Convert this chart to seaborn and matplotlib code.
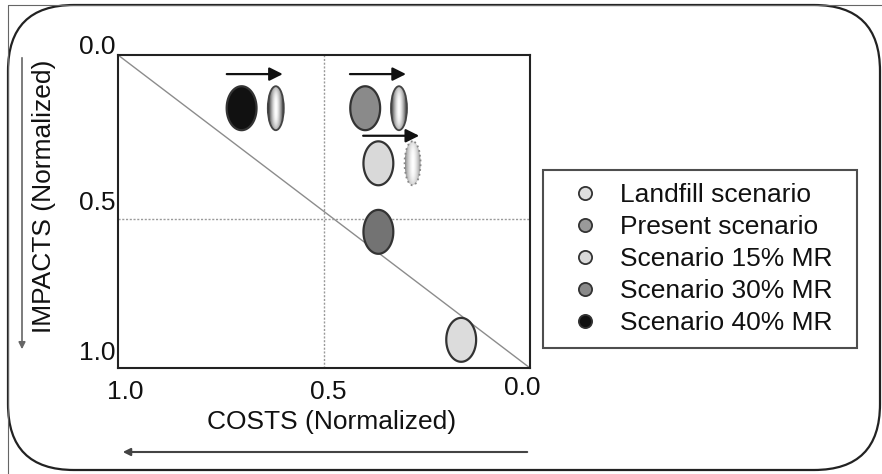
import numpy as np
import pandas as pd
import matplotlib
matplotlib.use("Agg")
import matplotlib.pyplot as plt
import matplotlib.transforms as mtransforms
from matplotlib.path import Path
from matplotlib.markers import MarkerStyle
from matplotlib.patches import Ellipse, FancyBboxPatch, FancyArrowPatch
from matplotlib.lines import Line2D
import seaborn as sns

# ---------------- data ----------------
scenarios = ["Landfill scenario", "Present scenario", "Scenario 15% MR",
             "Scenario 30% MR", "Scenario 40% MR"]
costs = [0.167, 0.368, 0.368, 0.400, 0.700]
impacts = [0.910, 0.565, 0.346, 0.170, 0.170]
point_colors = ["#dcdcdc", "#737373", "#d9d9d9", "#8a8a8a", "#111111"]
legend_colors = ["#dedede", "#9a9a9a", "#dadada", "#8a8a8a", "#111111"]

# shifted (future) positions shown as shaded ellipses
shift_costs = [0.617, 0.318, 0.285]
shift_impacts = [0.170, 0.170, 0.346]
shift_dark = ["#1e1e1e", "#2a2a2a", "#8a8a8a"]
shift_edge = ["solid", "solid", "dotted"]

# arrows indicating shift
arrow_from = [0.736, 0.437, 0.405]
arrow_to = [0.600, 0.301, 0.269]
arrow_y = [0.061, 0.061, 0.258]

x_ticks = [1.0, 0.5, 0.0]
x_tick_labels = ["1.0", "0.5", "0.0"]
y_ticks = [0.0, 0.5, 1.0]
y_tick_labels = ["0.0", "0.5", "1.0"]
ref_cost = 0.5
ref_impact = 0.525
diag_x = [1.0, 0.0]
diag_y = [0.0, 1.0]

# ---------------- style ----------------
sns.set_theme(style="white")
plt.rcParams["font.family"] = ["Liberation Sans", "DejaVu Sans"]
FS = 19

W, H = 882, 474
fig = plt.figure(figsize=(W / 100, H / 100), dpi=100)
fig.patch.set_facecolor("white")

def fx(px):
    return px / W

def fy(py):
    return 1 - py / H

ax_l, ax_r, ax_t, ax_b = 118, 530, 55, 368
ax = fig.add_axes([fx(ax_l), fy(ax_b), (ax_r - ax_l) / W, (ax_b - ax_t) / H])

# reference lines
ax.plot(diag_x, diag_y, color="#8c8c8c", lw=1.0, zorder=1)
ax.axvline(ref_cost, color="#9a9a9a", lw=1.0, ls=(0, (1.5, 1.2)), zorder=1)
ax.axhline(ref_impact, color="#9a9a9a", lw=1.0, ls=(0, (1.5, 1.2)), zorder=1)

# main scenario points with elliptical marker
t = np.linspace(0, 2 * np.pi, 80)
ell_path = Path(np.column_stack([0.68 * np.cos(t), np.sin(t)]), closed=True)
df = pd.DataFrame({"cost": costs, "impact": impacts, "scenario": scenarios})
sns.scatterplot(data=df, x="cost", y="impact", hue="scenario",
                palette=dict(zip(scenarios, point_colors)),
                marker=MarkerStyle(ell_path), s=1000, edgecolor="#333333",
                linewidth=1.6, legend=False, ax=ax, zorder=4)

# shaded ellipses (shifted positions)
ew = 16 / (ax_r - ax_l)
eh = 44 / (ax_b - ax_t)
gx = np.linspace(-1, 1, 64)
grad = np.tile(1 - np.abs(gx) ** 1.6, (64, 1))
gy = np.linspace(-1, 1, 64)[:, None]
grad = grad * (1 - 0.35 * np.abs(gy) ** 3)
for cx, cy, dark, ls in zip(shift_costs, shift_impacts, shift_dark, shift_edge):
    cmap = matplotlib.colors.LinearSegmentedColormap.from_list("g", [dark, "#ffffff"])
    im = ax.imshow(grad, cmap=cmap, extent=(cx - ew / 2, cx + ew / 2, cy + eh / 2, cy - eh / 2),
                   aspect="auto", zorder=3, interpolation="bilinear")
    clip = Ellipse((cx, cy), ew, eh, transform=ax.transData, facecolor="none")
    im.set_clip_path(clip)
    ax.add_patch(Ellipse((cx, cy), ew, eh, facecolor="none",
                         edgecolor="#444444" if ls == "solid" else "#888888",
                         lw=1.3, ls=ls, zorder=3.5))

# arrows
for x0, x1, yy in zip(arrow_from, arrow_to, arrow_y):
    ax.annotate("", xy=(x1, yy), xytext=(x0, yy),
                arrowprops=dict(arrowstyle="-|>", color="#111111", lw=1.6,
                                mutation_scale=20, shrinkA=0, shrinkB=0))

ax.set_xlim(1.0, 0.0)
ax.set_ylim(1.0, 0.0)
ax.set_xticks(x_ticks)
ax.set_xticklabels(x_tick_labels)
ax.set_yticks(y_ticks)
ax.set_yticklabels(y_tick_labels)
ax.tick_params(length=0, labelsize=FS, colors="#111111")
ax.tick_params(axis="x", pad=7)
ax.tick_params(axis="y", pad=2)
for sp in ax.spines.values():
    sp.set_color("#222222")
    sp.set_linewidth(1.5)
ax.set_facecolor("white")

# tick label offsets (px)
x_off = [(7, -2), (4, -2), (-8, 2)]
y_off = [(0, 10), (0, 11), (0, 17)]
for lab, (dx, dy) in zip(ax.get_xticklabels(), x_off):
    lab.set_transform(lab.get_transform() + mtransforms.ScaledTranslation(dx / 100, dy / 100, fig.dpi_scale_trans))
for lab, (dx, dy) in zip(ax.get_yticklabels(), y_off):
    lab.set_transform(lab.get_transform() + mtransforms.ScaledTranslation(dx / 100, dy / 100, fig.dpi_scale_trans))

ax.set_xlabel("COSTS (Normalized)", fontsize=FS, color="#111111")
ax.xaxis.label.set_va("center")
ax.xaxis.set_label_coords((332 - ax_l) / (ax_r - ax_l), (ax_b - 422) / (ax_b - ax_t))
ax.set_ylabel("IMPACTS (Normalized)", fontsize=FS, color="#111111")
ax.yaxis.label.set_va("center")
ax.yaxis.label.set_ha("center")
ax.yaxis.set_label_coords((44 - ax_l) / (ax_r - ax_l), (ax_b - 196) / (ax_b - ax_t))

# legend
handles = [Line2D([0], [0], marker="o", ls="none", markersize=9.5,
                  markerfacecolor=c, markeredgecolor="#333333", markeredgewidth=1.3)
           for c in legend_colors]
lx0, ly0, lx1, ly1 = 543, 170, 857, 349
leg = fig.legend(handles, scenarios, loc="upper left",
                 bbox_to_anchor=(fx(lx0), fy(ly1), (lx1 - lx0) / W, (ly1 - ly0) / H),
                 bbox_transform=fig.transFigure, mode="expand",
                 fontsize=FS, frameon=True, fancybox=False, borderaxespad=0,
                 borderpad=0.5, handlelength=2.2, handletextpad=0.2,
                 labelspacing=0.3, labelcolor="#111111")
leg.get_frame().set_edgecolor("#222222")
leg.get_frame().set_linewidth(1.5)
leg.get_frame().set_facecolor("white")

# rounded outer frame and thin border
ident = mtransforms.IdentityTransform()
fig.add_artist(FancyBboxPatch((8, H - 470), 872, 465,
                              boxstyle="round,pad=0,rounding_size=66",
                              transform=ident, facecolor="none",
                              edgecolor="#222222", lw=1.6, zorder=0))
fig.add_artist(Line2D([fx(8), fx(8)], [0, fy(5)], color="#666666", lw=0.8))
fig.add_artist(Line2D([fx(8), 1], [fy(5), fy(5)], color="#666666", lw=0.8))

# axis direction arrows
fig.add_artist(FancyArrowPatch((fx(22), fy(55)), (fx(22), fy(352)),
                               transform=fig.transFigure, arrowstyle="-|>",
                               mutation_scale=10, color="#666666", lw=1.2))
fig.add_artist(FancyArrowPatch((fx(530), fy(452)), (fx(120), fy(452)),
                               transform=fig.transFigure, arrowstyle="-|>",
                               mutation_scale=11, color="#444444", lw=1.5))

fig.savefig("out.png", dpi=100)
